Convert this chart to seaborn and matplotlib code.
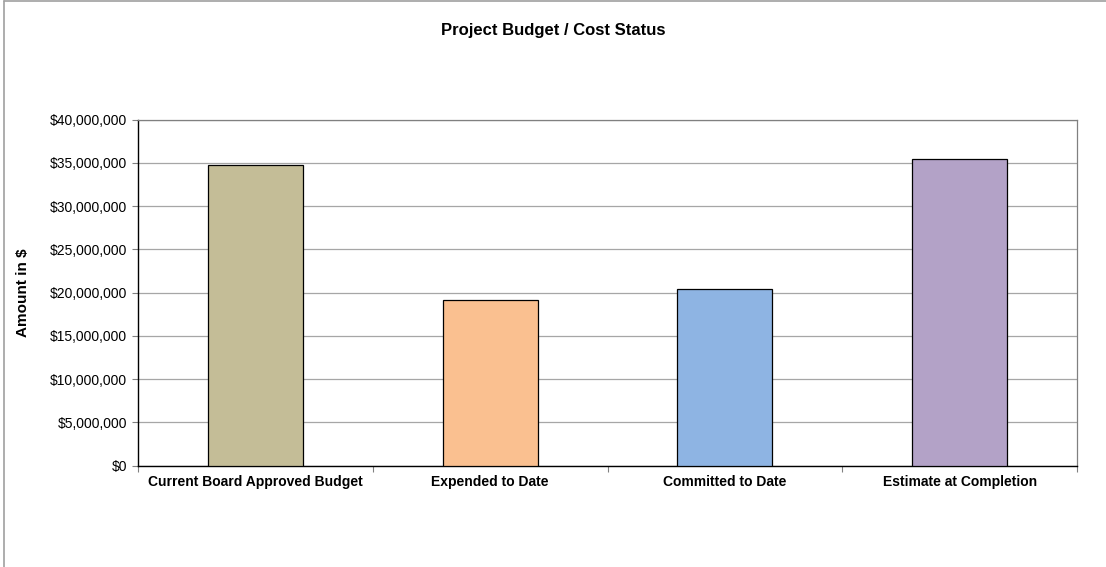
import matplotlib
matplotlib.use("Agg")
import matplotlib.pyplot as plt
import matplotlib.ticker as mticker
from matplotlib.lines import Line2D
import seaborn as sns
import pandas as pd

categories = ["Current Board Approved Budget", "Expended to Date",
              "Committed to Date", "Estimate at Completion"]
amounts = [34_700_000, 19_200_000, 20_400_000, 35_400_000]
bar_colors = ["#C4BD97", "#FAC090", "#8EB4E3", "#B3A2C7"]
y_ticks = [0, 5_000_000, 10_000_000, 15_000_000, 20_000_000,
           25_000_000, 30_000_000, 35_000_000, 40_000_000]

df = pd.DataFrame({"category": categories, "amount": amounts})

sns.set_theme(style="white")
plt.rcParams["font.family"] = ["Liberation Sans", "DejaVu Sans"]
plt.rcParams["text.color"] = "black"
plt.rcParams["axes.labelcolor"] = "black"
plt.rcParams["xtick.labelcolor"] = "black"
plt.rcParams["ytick.labelcolor"] = "black"

fig = plt.figure(figsize=(11.06, 5.67), dpi=100)
ax = fig.add_axes([0.1248, 0.1787, 0.849, 0.6105])

sns.barplot(data=df, x="category", y="amount", hue="category",
            palette=bar_colors, width=0.405, edgecolor="black",
            linewidth=0.9, saturation=1, legend=False, ax=ax, zorder=3)

ax.set_ylim(0, 40_000_000)
ax.set_xlim(-0.5, len(categories) - 0.5)
ax.set_yticks(y_ticks)
ax.yaxis.set_major_formatter(mticker.FuncFormatter(lambda v, p: f"${v:,.0f}"))
ax.yaxis.grid(True, color="#A6A6A6", linewidth=0.9, zorder=0)
ax.set_axisbelow(True)

ax.tick_params(axis="y", which="major", direction="out", length=4,
               width=0.8, color="#808080", left=True, labelsize=10, pad=4,
               labelcolor="black")
ax.tick_params(axis="x", which="major", length=0, pad=7, labelcolor="black")
ax.set_xticks([i - 0.5 for i in range(len(categories) + 1)], minor=True)
ax.tick_params(axis="x", which="minor", direction="out", length=4,
               width=0.8, color="#808080", bottom=True)
for lbl in ax.get_xticklabels():
    lbl.set_fontweight("bold")
    lbl.set_fontsize(10)

ax.set_xlabel("")
ax.set_ylabel("Amount in $", fontsize=11, fontweight="bold", labelpad=14,
              color="black")

for side in ("left", "bottom"):
    ax.spines[side].set_color("black")
    ax.spines[side].set_linewidth(1.0)
for side in ("top", "right"):
    ax.spines[side].set_color("#808080")
    ax.spines[side].set_linewidth(0.9)
    ax.spines[side].set_visible(True)

fig.text(0.5, 0.947, "Project Budget / Cost Status", ha="center", va="center",
         fontsize=12, fontweight="bold", color="black")

# outer chart frame
fig.add_artist(Line2D([0.0036, 1.0], [0.9982, 0.9982], color="#A0A0A0",
                      linewidth=1.2, transform=fig.transFigure))
fig.add_artist(Line2D([0.0036, 0.0036], [0.0, 0.9982], color="#A0A0A0",
                      linewidth=1.2, transform=fig.transFigure))

fig.savefig("out.png", dpi=100, facecolor="white")
